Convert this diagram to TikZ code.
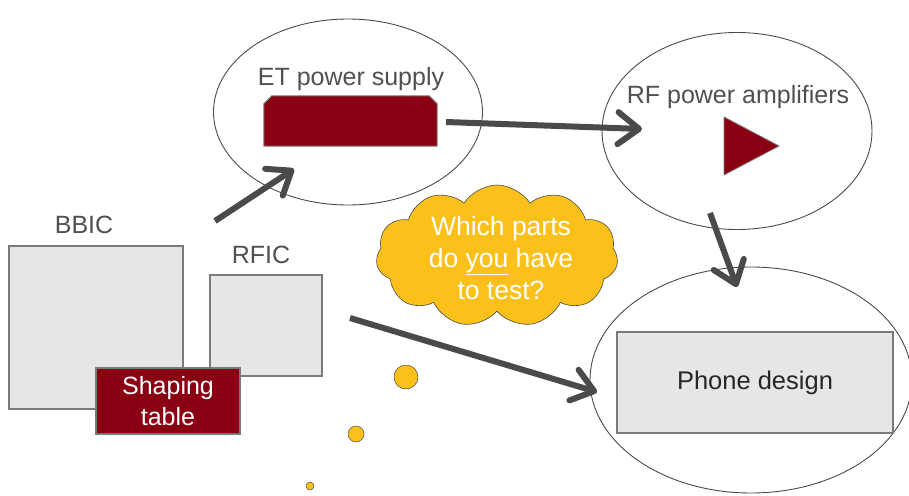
\documentclass[tikz,border=0pt]{standalone}
\usepackage{fontspec}
\setmainfont{Liberation Sans}
\usetikzlibrary{shapes.geometric,shapes.symbols,shapes.misc,arrows.meta}
\definecolor{dred}{HTML}{8A0012}
\definecolor{yel}{HTML}{FCC01A}
\definecolor{lgray}{HTML}{E5E6E8}
\definecolor{bgray}{HTML}{7A7A7A}
\definecolor{tgray}{HTML}{505050}
\definecolor{agray}{HTML}{4A4A4A}
\tikzset{
  oval/.style={ellipse, draw=agray, line width=0.9pt},
  chip/.style={draw=bgray, fill=lgray, line width=1.2pt, inner sep=0pt},
  lbl/.style={text=tgray, font=\fontsize{25}{30}\selectfont, inner sep=0pt, anchor=base},
  bigarrow/.style={draw=agray, line width=6pt, -{Straight Barb[length=21pt,width=32pt,round]}},
  bubble/.style={circle, fill=yel, draw=agray, line width=0.5pt, inner sep=0pt}
}
\begin{document}
\begin{tikzpicture}[x=1pt,y=-1pt]
\useasboundingbox (0,0) rectangle (909,495);
% ellipses
\node[oval, minimum width=269pt, minimum height=186pt] (etell) at (348,112) {};
\node[oval, minimum width=270pt, minimum height=197pt] (rfell) at (737,131) {};
\node[oval, minimum width=322pt, minimum height=226pt] (phell) at (751,380) {};
% ET power supply
\node[lbl] (etlbl) at (351,85) {ET power supply};
\node[rectangle, minimum width=173pt, minimum height=50pt, inner sep=0pt] (etbox) at (350.5,121) {};
\draw[fill=dred, draw=bgray, line width=1pt]
  (etbox.south west) -- ([yshift=-8pt]etbox.north west) -- ([xshift=8pt]etbox.north west)
  -- ([xshift=-8pt]etbox.north east) -- ([yshift=-8pt]etbox.north east) -- (etbox.south east) -- cycle;
% RF power amplifiers
\node[lbl] (rflbl) at (738,103) {RF power amplifiers};
\coordinate (triA) at (724,117);
\coordinate (triB) at (779,146);
\coordinate (triC) at (724,175);
\draw[fill=dred, draw=bgray, line width=0.8pt] (triA) -- (triB) -- (triC) -- cycle;
% Phone design
\node[chip, minimum width=276pt, minimum height=101pt, text=black!85, font=\fontsize{25.5}{30}\selectfont] (phone) at (755,382.5) {Phone design};
% BBIC / RFIC
\node[chip, minimum width=174pt, minimum height=163pt] (bbic) at (96,327.5) {};
\node[lbl] (bbiclbl) at (84,233) {BBIC};
\node[chip, minimum width=112pt, minimum height=101pt] (rfic) at (266,325.5) {};
\node[lbl] (rficlbl) at (261,263) {RFIC};
\node[fill=dred, draw=bgray, line width=1.2pt, minimum width=144pt, minimum height=66pt, inner sep=0pt, text=white, align=center, font=\fontsize{25}{31}\selectfont] (shaping) at (168,401) {Shaping\\table};
% cloud
\node[cloud, cloud puffs=11, cloud puff arc=115, aspect=1.7, fill=yel, draw=agray, line width=0.6pt, minimum width=242pt, minimum height=142pt, inner sep=0pt] (cloud) at (497,256) {};
\node[text=white, align=center, font=\fontsize{26.5}{32}\selectfont, inner sep=0pt] (cloudtxt) at (501,258) {Which parts\\do \underline{you} have\\to test?};
% bubbles
\node[bubble, minimum size=24pt] (b1) at (406,377) {};
\node[bubble, minimum size=16pt] (b2) at (356,434) {};
\node[bubble, minimum size=8pt] (b3) at (310,486) {};
% arrows
\coordinate (a1s) at (215,221);
\coordinate (a1e) at (294,169);
\coordinate (a2s) at (446,122);
\coordinate (a2e) at (642,129);
\coordinate (a3s) at (710,213);
\coordinate (a3e) at (737,287);
\coordinate (a4s) at (350,318);
\coordinate (a4e) at (597,392);
\draw[bigarrow] (a1s) -- (a1e);
\draw[bigarrow] (a2s) -- (a2e);
\draw[bigarrow] (a3s) -- (a3e);
\draw[bigarrow] (a4s) -- (a4e);
\end{tikzpicture}
\end{document}
